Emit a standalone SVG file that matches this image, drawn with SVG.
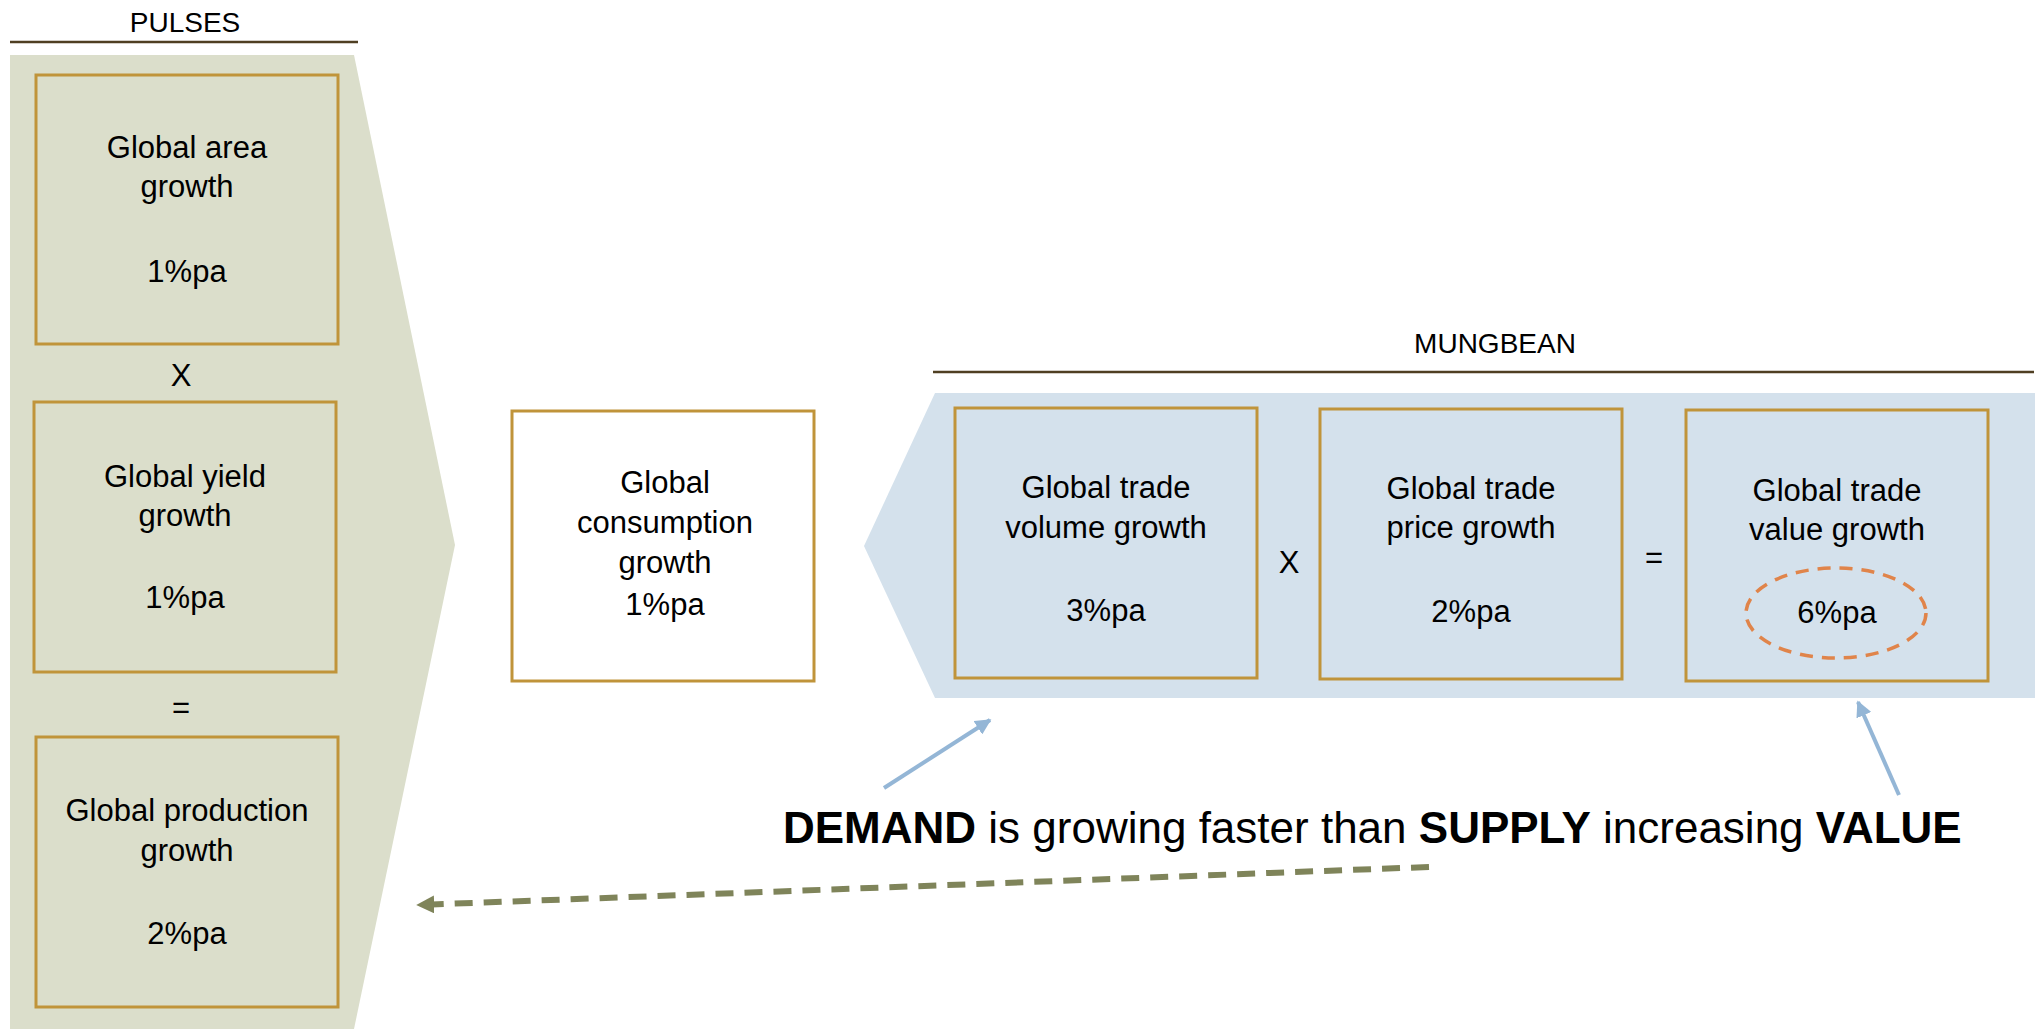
<svg xmlns="http://www.w3.org/2000/svg" width="2040" height="1029" viewBox="0 0 2040 1029">
<defs>
<style>
.t{font-family:"Liberation Sans",Arial,sans-serif;font-size:31px;fill:#000;text-anchor:middle}
.hd{font-family:"Liberation Sans",Arial,sans-serif;font-size:28px;fill:#000;text-anchor:middle}
.box{stroke:#C0943A;stroke-width:3}
.g{fill:#DBDECB}
.b{fill:#D4E1EC}
.rule{stroke:#4F3F22;stroke-width:2.5}
.msg{font-family:"Liberation Sans",Arial,sans-serif;font-size:44px;fill:#000}
</style>
<marker id="ab" viewBox="0 0 10 10" refX="9" refY="5" markerWidth="4" markerHeight="4" orient="auto" markerUnits="strokeWidth">
<path d="M0,0 L10,5 L0,10 z" fill="#94B6D6"/>
</marker>
<marker id="ag" viewBox="0 0 10 10" refX="9" refY="5" markerWidth="3" markerHeight="3" orient="auto" markerUnits="strokeWidth">
<path d="M0,0 L10,5 L0,10 z" fill="#7F845A"/>
</marker>
</defs>
<rect width="2040" height="1029" fill="#fff"/>

<g id="pulses-section">
<text class="hd" x="185" y="32">PULSES</text>
<line class="rule" x1="10" y1="42" x2="358" y2="42"/>
<polygon class="g" points="10,55 354,55 455,545 354,1029 10,1029"/>
</g>

<g id="area">
<rect class="box g" x="36" y="75" width="302" height="269"/>
<text class="t" x="187" y="158">Global area</text>
<text class="t" x="187" y="197">growth</text>
<text class="t" x="187" y="282">1%pa</text>
</g>
<text class="t" x="181" y="386">X</text>
<g id="yield">
<rect class="box g" x="34" y="402" width="302" height="270"/>
<text class="t" x="185" y="487">Global yield</text>
<text class="t" x="185" y="526">growth</text>
<text class="t" x="185" y="608">1%pa</text>
</g>
<text class="t" x="181" y="718">=</text>
<g id="production">
<rect class="box g" x="36" y="737" width="302" height="270"/>
<text class="t" x="187" y="821">Global production</text>
<text class="t" x="187" y="861">growth</text>
<text class="t" x="187" y="944">2%pa</text>
</g>

<g id="consumption">
<rect class="box" fill="#fff" x="512" y="411" width="302" height="270"/>
<text class="t" x="665" y="493">Global</text>
<text class="t" x="665" y="533">consumption</text>
<text class="t" x="665" y="573">growth</text>
<text class="t" x="665" y="615">1%pa</text>
</g>

<g id="mungbean-section">
<text class="hd" x="1495" y="353">MUNGBEAN</text>
<line class="rule" x1="933" y1="372" x2="2034" y2="372"/>
<polygon class="b" points="935,393 2035,393 2035,698 935,698 864,546"/>
</g>

<g id="volume">
<rect class="box b" x="955" y="408" width="302" height="270"/>
<text class="t" x="1106" y="498">Global trade</text>
<text class="t" x="1106" y="538">volume growth</text>
<text class="t" x="1106" y="621">3%pa</text>
</g>
<text class="t" x="1289" y="573">X</text>
<g id="price">
<rect class="box b" x="1320" y="409" width="302" height="270"/>
<text class="t" x="1471" y="499">Global trade</text>
<text class="t" x="1471" y="538">price growth</text>
<text class="t" x="1471" y="622">2%pa</text>
</g>
<text class="t" x="1654" y="568">=</text>
<g id="value">
<rect class="box b" x="1686" y="410" width="302" height="271"/>
<text class="t" x="1837" y="501">Global trade</text>
<text class="t" x="1837" y="540">value growth</text>
<ellipse cx="1836" cy="613" rx="90" ry="45" fill="none" stroke="#E0844A" stroke-width="3.5" stroke-dasharray="13 9"/>
<text class="t" x="1837" y="623">6%pa</text>
</g>

<g id="connectors">
<line x1="884" y1="788" x2="990" y2="720" stroke="#94B6D6" stroke-width="4" marker-end="url(#ab)"/>
<line x1="1899" y1="795" x2="1858" y2="702" stroke="#94B6D6" stroke-width="4" marker-end="url(#ab)"/>
<line x1="1429" y1="867" x2="418" y2="905" stroke="#7F845A" stroke-width="6" stroke-dasharray="18 11" marker-end="url(#ag)"/>
</g>

<text class="msg" x="783" y="843"><tspan font-weight="bold">DEMAND</tspan> is growing faster than <tspan font-weight="bold">SUPPLY</tspan> increasing <tspan font-weight="bold">VALUE</tspan></text>
</svg>
